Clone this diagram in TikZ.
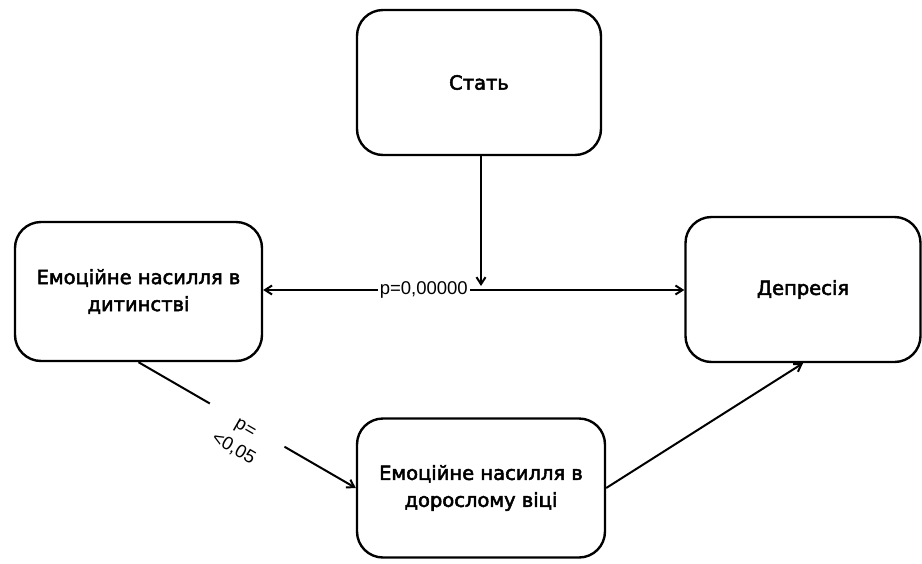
\documentclass[tikz,border=0pt]{standalone}
\usepackage{fontspec}
\setmainfont{DejaVu Sans}[BoldFont={DejaVu Sans}, BoldFeatures={FakeBold=2.6}]
\newfontfamily\lblfont{Liberation Sans}
\usetikzlibrary{arrows.meta}
\begin{document}
\begin{tikzpicture}[x=1pt,y=-1pt,
  box/.style={draw, line width=2.4pt, rounded corners=26pt, align=center, font=\bfseries\fontsize{19.5}{27}\selectfont, inner sep=0pt},
  conn/.style={line width=2pt, -{Straight Barb[length=7pt,width=9pt]}},
  lbl/.style={font=\lblfont\fontsize{18.5}{24}\selectfont}]
\useasboundingbox (0,0) rectangle (922,563);
\node[box, minimum width=244pt, minimum height=145pt] (stat) at (479,82.5) {Стать};
\node[box, minimum width=247pt, minimum height=139pt] (child) at (138.5,291.5) {Емоційне насилля в\\дитинстві};
\node[box, minimum width=235pt, minimum height=145pt] (dep) at (803,289.5) {Депресія};
\node[box, minimum width=248pt, minimum height=139pt] (adult) at (481,488) {Емоційне насилля в\\дорослому віці};
\coordinate (tip) at (481,286);
\draw[conn, {Straight Barb[length=7pt,width=9pt]}-{Straight Barb[length=7pt,width=9pt]}] (child.east |- 0,290) -- node[lbl, fill=white, inner xsep=2pt, inner ysep=1pt, xshift=-50pt] (p1) {p=0,00000} (dep.west |- 0,290);
\draw[conn] (stat.south -| tip) -- (tip);
\draw[conn] (child.south) -- node[lbl, pos=0.5, sloped, below=-6pt, fill=white, align=center, minimum width=86pt] (p2) {p=\\<0,05} (adult.west);
\draw[conn] (adult.east) -- (dep.south);
\end{tikzpicture}
\end{document}
